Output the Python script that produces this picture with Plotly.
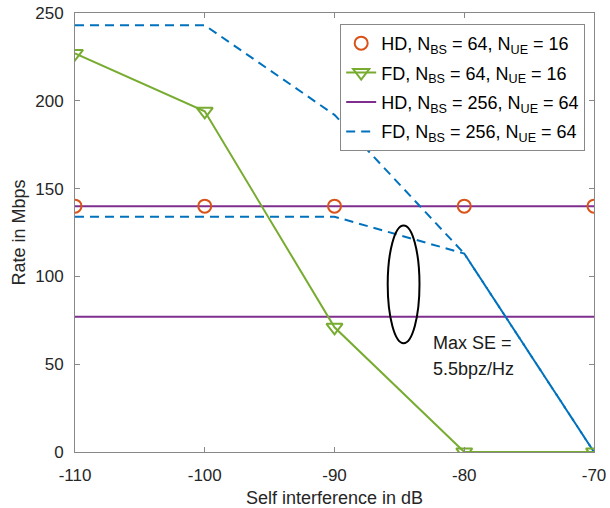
import plotly.graph_objects as go

x = [-110, -100, -90, -80, -70]
x_ticktext = ["-110", "-100", "-90", "-80", "-70"]
y_ticks = [0, 50, 100, 150, 200, 250]
hd64 = [140, 140, 140, 140, 140]
fd64 = [227, 194, 71, 0, 0]
hd256 = [140, 140, 140, 140, 140]
hd256_maxse = [77, 77, 77, 77, 77]
fd256 = [243, 243, 192, 113, 0]
fd256_maxse = [134, 134, 134, 113, 0]

orange = "#D95319"
green = "#77AC30"
purple = "#7E2F8E"
blue = "#0072BD"
dash = "9px,6px"

fig = go.Figure()
fig.add_trace(go.Scatter(x=x, y=hd256, mode="lines", line=dict(color=purple, width=2),
                         showlegend=False))
fig.add_trace(go.Scatter(x=x, y=hd256_maxse, mode="lines", line=dict(color=purple, width=2),
                         showlegend=False))
fig.add_trace(go.Scatter(x=x, y=fd256, mode="lines", line=dict(color=blue, width=2, dash=dash),
                         showlegend=False))
fig.add_trace(go.Scatter(x=x, y=fd256_maxse, mode="lines", line=dict(color=blue, width=2, dash=dash),
                         showlegend=False))
fig.add_trace(go.Scatter(x=x, y=fd64, mode="lines+markers", line=dict(color=green, width=2),
                         marker=dict(symbol="triangle-down-open", size=14, color=green, line=dict(width=2)),
                         showlegend=False))
fig.add_trace(go.Scatter(x=x, y=hd64, mode="markers",
                         marker=dict(symbol="circle-open", size=13, color=orange, line=dict(width=2)),
                         showlegend=False))

# legend entries
fig.add_trace(go.Scatter(x=[None], y=[None], mode="markers", legendgroup="a",
                         marker=dict(symbol="circle-open", size=13, color=orange, line=dict(width=2)),
                         name="HD, N<sub>BS</sub> = 64, N<sub>UE</sub> = 16"))
fig.add_trace(go.Scatter(x=[None], y=[None], mode="lines+markers", legendgroup="b",
                         line=dict(color=green, width=2),
                         marker=dict(symbol="triangle-down-open", size=14, color=green, line=dict(width=2)),
                         name="FD, N<sub>BS</sub> = 64, N<sub>UE</sub> = 16"))
fig.add_trace(go.Scatter(x=[None], y=[None], mode="lines", legendgroup="c",
                         line=dict(color=purple, width=2),
                         name="HD, N<sub>BS</sub> = 256, N<sub>UE</sub> = 64"))
fig.add_trace(go.Scatter(x=[None], y=[None], mode="lines", legendgroup="d",
                         line=dict(color=blue, width=2, dash=dash),
                         name="FD, N<sub>BS</sub> = 256, N<sub>UE</sub> = 64"))

fig.add_shape(type="circle", xref="x", yref="y", x0=-85.9, x1=-83.45, y0=62, y1=129,
              line=dict(color="black", width=2))
fig.add_annotation(x=-82.6, y=62, xref="x", yref="y", text="Max SE =",
                   showarrow=False, xanchor="left", yanchor="middle", align="left",
                   font=dict(size=18, color="#1a1a1a"))
fig.add_annotation(x=-82.6, y=47.5, xref="x", yref="y", text="5.5bpz/Hz",
                   showarrow=False, xanchor="left", yanchor="middle", align="left",
                   font=dict(size=18, color="#1a1a1a"))

axis_common = dict(showline=True, linecolor="#888", linewidth=1, mirror="ticks",
                   ticks="inside", ticklen=5, tickcolor="#888", showgrid=False, zeroline=False,
                   automargin=False, tickfont=dict(size=17, color="#262626"))
fig.update_xaxes(range=[-110, -70], tickvals=x, ticktext=x_ticktext, ticklabelstandoff=8,
                 title=dict(text="Self interference in dB", font=dict(size=18, color="#262626"), standoff=10),
                 **axis_common)
fig.update_yaxes(range=[0, 250], tickvals=y_ticks, ticklabelstandoff=7,
                 title=dict(text="Rate in Mbps", font=dict(size=18, color="#262626"), standoff=4),
                 **axis_common)

fig.update_layout(
    width=610, height=508,
    margin=dict(l=75, r=16, t=13, b=56),
    plot_bgcolor="white", paper_bgcolor="white",
    font=dict(family="Liberation Sans, Arial, sans-serif", color="#000"),
    legend=dict(x=0.983, y=0.975, xanchor="right", yanchor="top",
                bgcolor="white", bordercolor="#888", borderwidth=1,
                font=dict(size=18, color="#000"), tracegroupgap=3, traceorder="grouped"),
)

fig.write_html("out.html")
